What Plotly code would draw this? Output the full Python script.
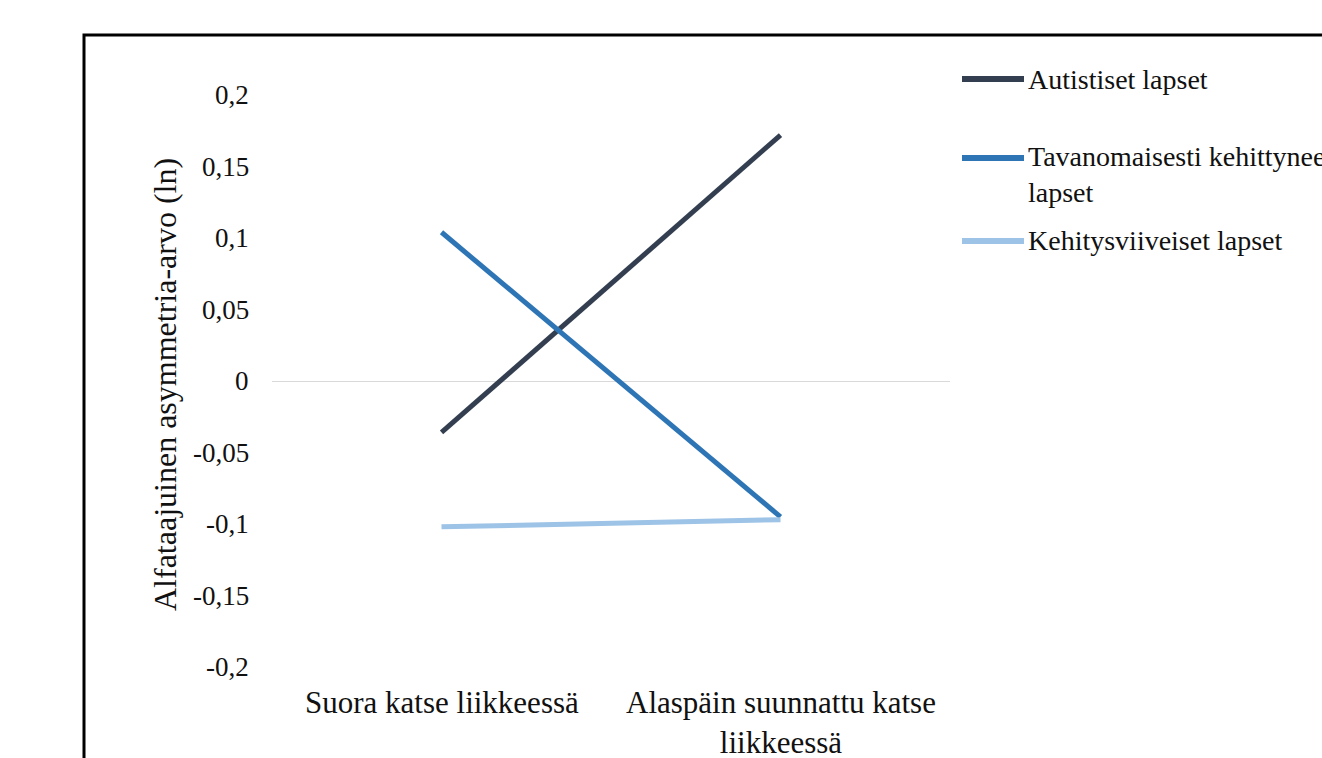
import plotly.graph_objects as go

categories = ["Suora katse liikkeessä", "Alaspäin suunnattu katse<br>liikkeessä"]
series_names = ["Autistiset lapset", "Tavanomaisesti kehittyneet<br>lapset", "Kehitysviiveiset lapset"]
autistiset = [-0.036, 0.172]
tavanomaiset = [0.104, -0.095]
kehitysviiveiset = [-0.102, -0.097]
y_ticks = [0.2, 0.15, 0.1, 0.05, 0, -0.05, -0.1, -0.15, -0.2]
y_tick_text = ["0,2", "0,15", "0,1", "0,05", "0", "-0,05", "-0,1", "-0,15", "-0,2"]
y_title = "Alfataajuinen asymmetria-arvo (ln)"

colors = ["#333F50", "#2E75B6", "#9DC3E6"]
serif = "Liberation Serif"
ink = "#111111"

W, H = 1322, 758
M_L, M_R, M_T, M_B = 272, 372, 95, 91
PLOT_W, PLOT_H = W - M_L - M_R, H - M_T - M_B


def px_x(px):
    """Horizontal pixel position -> paper coordinate."""
    return (px - M_L) / PLOT_W


def px_y(py):
    """Vertical pixel position -> paper coordinate."""
    return (H - M_B - py) / PLOT_H


fig = go.Figure()
for i, (name, vals) in enumerate(zip(series_names, [autistiset, tavanomaiset, kehitysviiveiset])):
    fig.add_trace(go.Scatter(
        x=categories, y=vals, mode="lines", name=name,
        line=dict(color=colors[i], width=5),
        showlegend=False,
    ))

annotations = []
# value labels along the vertical axis
for v, t in zip(y_ticks, y_tick_text):
    annotations.append(dict(
        text=t, xref="paper", x=0, xshift=-21, xanchor="right",
        yref="y", y=v, yanchor="middle", showarrow=False,
        font=dict(family=serif, size=27, color=ink),
    ))
# category labels under the plot
for c in categories:
    annotations.append(dict(
        text=c, xref="x", x=c, xanchor="center",
        yref="paper", y=0, yanchor="top", yshift=-16, showarrow=False,
        align="center", font=dict(family=serif, size=31, color=ink),
    ))
# vertical axis title
annotations.append(dict(
    text=y_title, textangle=-90, xref="paper", x=0, xshift=-107, xanchor="center",
    yref="paper", y=0.5, yshift=-4, yanchor="middle", showarrow=False,
    font=dict(family=serif, size=32, color=ink),
))

# legend: swatch line + label for each series
legend_rows = [79, 158, 241]
shapes = []
for i, (name, row) in enumerate(zip(series_names, legend_rows)):
    shapes.append(dict(
        type="line", xref="paper", yref="paper",
        x0=px_x(962), x1=px_x(1024), y0=px_y(row), y1=px_y(row),
        line=dict(color=colors[i], width=6),
    ))
    n_lines = name.count("<br>") + 1
    annotations.append(dict(
        text=name, xref="paper", x=px_x(1026), xanchor="left",
        yref="paper", y=px_y(row), yanchor="middle",
        yshift=-(n_lines - 1) * 17, showarrow=False, align="left",
        font=dict(family=serif, size=28, color=ink),
    ))

# outer frame of the chart
shapes.append(dict(
    type="rect", xref="paper", yref="paper",
    x0=px_x(84), x1=1.8, y0=-0.5, y1=px_y(35),
    line=dict(color="black", width=3), fillcolor="rgba(0,0,0,0)", layer="below",
))

fig.update_layout(
    width=W, height=H,
    margin=dict(l=M_L, r=M_R, t=M_T, b=M_B, autoexpand=False),
    paper_bgcolor="white", plot_bgcolor="white",
    font=dict(family=serif, size=27, color=ink),
    showlegend=False,
    annotations=annotations,
    shapes=shapes,
    xaxis=dict(
        type="category", range=[-0.5, 1.5], showgrid=False, showline=False,
        zeroline=False, ticks="", showticklabels=False,
    ),
    yaxis=dict(
        range=[-0.2, 0.2], tickvals=y_ticks,
        showgrid=False, showline=False, ticks="", showticklabels=False,
        zeroline=True, zerolinecolor="#D9D9D9", zerolinewidth=1.2,
    ),
)

fig.write_html("out.html")
